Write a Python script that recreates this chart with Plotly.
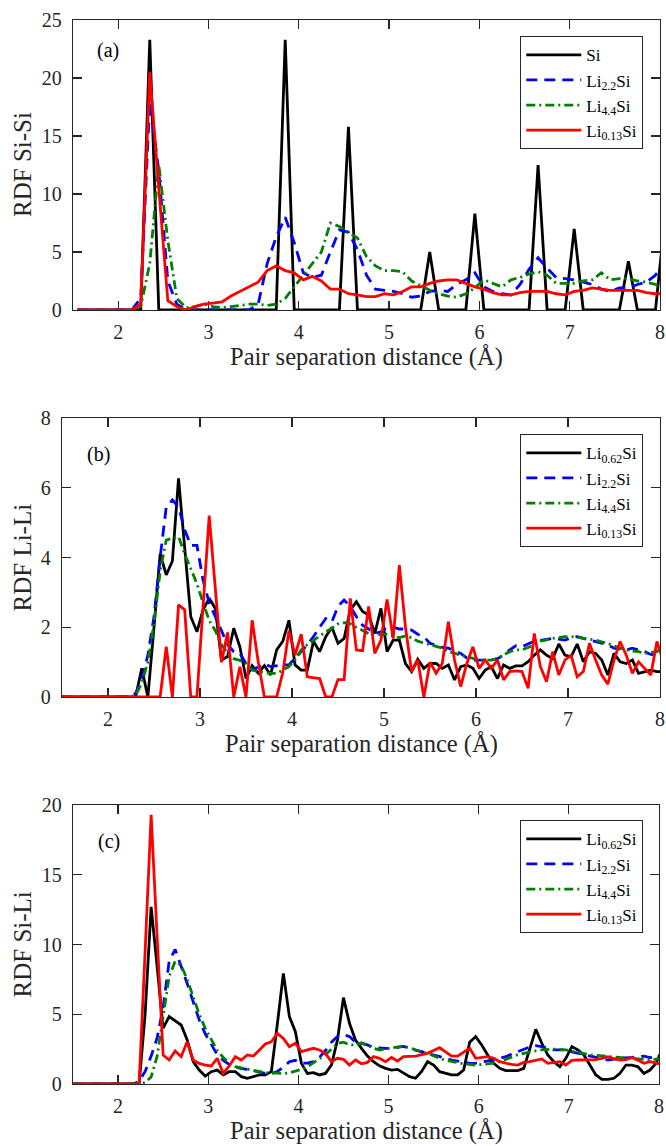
import plotly.graph_objects as go

# ---------------- Panel (a): Si-Si, 0.1 A bins ----------------
r_a = [1.55, 1.65, 1.75, 1.85, 1.95, 2.05, 2.15, 2.25, 2.35, 2.45,
       2.55, 2.65, 2.75, 2.85, 2.95, 3.05, 3.15, 3.25, 3.35, 3.45,
       3.55, 3.65, 3.75, 3.85, 3.95, 4.05, 4.15, 4.25, 4.35, 4.45,
       4.55, 4.65, 4.75, 4.85, 4.95, 5.05, 5.15, 5.25, 5.35, 5.45,
       5.55, 5.65, 5.75, 5.85, 5.95, 6.05, 6.15, 6.25, 6.35, 6.45,
       6.55, 6.65, 6.75, 6.85, 6.95, 7.05, 7.15, 7.25, 7.35, 7.45,
       7.55, 7.65, 7.75, 7.85, 7.95, 8.05]

a_si = [0, 0, 0, 0, 0, 0, 0, 0, 23.3, 0,
        0, 0, 0, 0, 0, 0, 0, 0, 0, 0,
        0, 0, 0, 23.3, 0, 0, 0, 0, 0, 0,
        15.8, 0, 0, 0, 0, 0, 0, 0, 0, 5.0,
        0, 0, 0, 0, 8.3, 0, 0, 0, 0, 0,
        0, 12.5, 0, 0, 0, 7.0, 0, 0, 0, 0,
        0, 4.2, 0, 0, 0, 7.6]

a_li22 = [0, 0, 0, 0, 0, 0, 0, 1.0, 18.0, 12.0,
          2.5, 0.5, 0, 0, 0, 0, 0, 0, 0, 0,
          0.5, 4.0, 6.3, 8.0, 5.8, 3.2, 2.8, 3.0, 5.0, 6.9,
          6.7, 5.2, 3.0, 1.8, 1.7, 1.6, 1.4, 1.1, 1.2, 1.6,
          1.7, 1.6, 2.2, 2.6, 3.2, 2.0, 1.6, 1.4, 1.3, 2.2,
          3.5, 4.5, 3.6, 2.8, 2.7, 2.6, 2.4, 2.2, 1.8, 1.6,
          1.9, 1.9, 2.2, 2.4, 3.0, 4.0]

a_li44 = [0, 0, 0, 0, 0, 0, 0, 0.3, 4.0, 12.5,
          6.0, 1.0, 0.2, 0.3, 0.5, 0.3, 0.2, 0.3, 0.4, 0.5,
          0.5, 0.4, 0.5, 1.0, 2.0, 3.0, 4.0, 5.0, 7.5, 7.2,
          6.7, 6.2, 4.6, 3.8, 3.4, 3.4, 3.3, 2.5, 2.1, 1.7,
          1.4, 1.2, 1.1, 1.4, 1.9, 2.6, 2.3, 2.0, 2.6, 2.8,
          3.1, 3.3, 3.0, 2.3, 2.3, 2.3, 2.5, 2.6, 3.2, 2.6,
          2.7, 2.7, 2.5, 2.4, 2.2, 2.1]

a_li013 = [0, 0, 0, 0, 0, 0, 0, 0.5, 20.5, 10.5,
           0.8, 0.3, 0, 0.3, 0.5, 0.6, 0.7, 1.2, 1.6, 2.0,
           2.4, 3.4, 3.8, 3.4, 3.2, 2.6, 2.9, 2.5, 1.8, 1.8,
           1.4, 1.3, 1.15, 1.15, 1.4, 1.3, 1.6, 2.0, 2.0, 2.3,
           2.5, 2.6, 2.6, 2.3, 2.0, 1.8, 1.5, 1.3, 1.3, 1.5,
           1.6, 1.6, 1.6, 1.4, 1.3, 1.6, 1.7, 1.9, 1.8, 1.7,
           1.7, 1.7, 1.7, 1.5, 1.4, 1.4]

# ---------------- Panels (b), (c): 1/15 A bins ----------------
r_bc = [1.5, 1.5667, 1.6333, 1.7, 1.7667, 1.8333, 1.9, 1.9667, 2.0333, 2.1,
        2.1667, 2.2333, 2.3, 2.3667, 2.4333, 2.5, 2.5667, 2.6333, 2.7, 2.7667,
        2.8333, 2.9, 2.9667, 3.0333, 3.1, 3.1667, 3.2333, 3.3, 3.3667, 3.4333,
        3.5, 3.5667, 3.6333, 3.7, 3.7667, 3.8333, 3.9, 3.9667, 4.0333, 4.1,
        4.1667, 4.2333, 4.3, 4.3667, 4.4333, 4.5, 4.5667, 4.6333, 4.7, 4.7667,
        4.8333, 4.9, 4.9667, 5.0333, 5.1, 5.1667, 5.2333, 5.3, 5.3667, 5.4333,
        5.5, 5.5667, 5.6333, 5.7, 5.7667, 5.8333, 5.9, 5.9667, 6.0333, 6.1,
        6.1667, 6.2333, 6.3, 6.3667, 6.4333, 6.5, 6.5667, 6.6333, 6.7, 6.7667,
        6.8333, 6.9, 6.9667, 7.0333, 7.1, 7.1667, 7.2333, 7.3, 7.3667, 7.4333,
        7.5, 7.5667, 7.6333, 7.7, 7.7667, 7.8333, 7.9, 7.9667, 8.0333]

b_li062 = [0, 0, 0, 0, 0, 0, 0, 0, 0, 0,
           0, 0, 0, 0.82, 0, 2.0, 4.1, 3.5, 3.9, 6.27,
           4.3, 2.3, 1.87, 2.5, 2.83, 2.54, 1.06, 1.16, 1.97, 1.44,
           0.53, 0.9, 0.68, 0.9, 0.63, 1.35, 1.6, 2.2, 0.92, 0.77,
           0.77, 1.6, 1.3, 1.73, 2.0, 1.54, 1.68, 2.5, 2.73, 2.45,
           2.35, 1.82, 2.54, 1.3, 1.63, 1.63, 0.96, 0.73, 1.08, 0.82,
           0.96, 0.96, 0.82, 0.92, 0.49, 0.87, 0.92, 0.82, 0.53, 0.77,
           0.87, 0.53, 0.92, 0.82, 0.89, 0.89, 1.01, 1.2, 1.35, 1.2,
           1.1, 1.52, 1.2, 1.15, 1.52, 1.01, 1.3, 1.25, 1.06, 0.63,
           1.25, 1.01, 0.96, 1.06, 0.68, 0.73, 0.77, 0.73, 0.73]

b_li22 = [0, 0, 0, 0, 0, 0, 0, 0, 0, 0,
          0, 0.05, 0.1, 0.5, 1.2, 2.3, 4.0, 5.45, 5.65, 5.45,
          4.8, 4.35, 4.35, 3.35, 2.7, 2.3, 1.9, 1.5, 1.3, 1.25,
          0.96, 0.8, 0.85, 0.96, 0.87, 0.9, 0.92, 0.92, 1.1, 1.3,
          1.5, 1.73, 2.0, 2.25, 2.15, 2.6, 2.78, 2.6, 2.3, 2.06,
          1.95, 1.82, 1.87, 2.0, 2.0, 1.95, 1.95, 1.92, 1.8, 1.73,
          1.54, 1.48, 1.42, 1.4, 1.32, 1.25, 1.12, 1.06, 1.06, 1.06,
          1.06, 1.1, 1.2, 1.35, 1.47, 1.44, 1.52, 1.6, 1.62, 1.65,
          1.68, 1.66, 1.63, 1.7, 1.73, 1.68, 1.64, 1.6, 1.55, 1.5,
          1.4, 1.37, 1.35, 1.4, 1.35, 1.3, 1.22, 1.2, 1.3]

b_li44 = [0, 0, 0, 0, 0, 0, 0, 0, 0, 0,
          0, 0, 0.05, 0.4, 1.0, 2.1, 3.6, 4.5, 4.55, 4.6,
          4.1, 3.7, 3.25, 2.7, 2.2, 1.9, 1.5, 1.25, 1.1, 1.05,
          0.96, 0.77, 0.73, 0.7, 0.68, 0.68, 0.77, 0.87, 1.06, 1.35,
          1.5, 1.63, 1.75, 1.87, 1.97, 2.1, 2.13, 2.1, 2.0, 1.92,
          1.82, 1.78, 1.78, 1.8, 1.75, 1.7, 1.75, 1.7, 1.6, 1.55,
          1.5, 1.46, 1.4, 1.3, 1.25, 1.2, 1.16, 1.12, 1.06, 1.06,
          1.06, 1.1, 1.2, 1.3, 1.35, 1.35, 1.42, 1.49, 1.6, 1.65,
          1.68, 1.7, 1.73, 1.73, 1.72, 1.68, 1.66, 1.63, 1.58, 1.54,
          1.46, 1.4, 1.35, 1.32, 1.3, 1.25, 1.28, 1.3, 1.44]

b_li013 = [0, 0, 0, 0, 0, 0, 0, 0, 0, 0,
           0, 0, 0, 0, 0, 0, 0, 1.44, 0, 2.64,
           2.5, 0, 0, 2.6, 5.2, 3.1, 1.0, 1.85, 0, 0.87,
           0, 2.2, 1.0, 0, 0, 0, 0.7, 1.9, 1.2, 1.8,
           0.58, 0.55, 0.53, 0, 0, 0.5, 0.5, 2.83, 1.35, 1.33,
           2.6, 1.25, 1.63, 2.8, 1.68, 3.78, 2.0, 0.73, 1.06, 0,
           1.0, 0.68, 0.96, 2.16, 1.06, 0.3, 0.96, 1.44, 0.82, 1.06,
           0.82, 1.06, 0.49, 0.73, 0.75, 0.73, 0.25, 1.82, 0.87, 0.44,
           1.3, 0.63, 1.06, 1.2, 0.58, 0.73, 1.54, 1.06, 0.63, 0.37,
           1.06, 1.59, 1.2, 0.68, 1.01, 0.82, 0.63, 1.59, 1.06]

c_li062 = [0, 0, 0, 0, 0, 0, 0, 0, 0, 0,
           0, 0, 5.0, 12.7, 8.4, 4.0, 4.83, 4.54, 4.23, 3.15,
           1.6, 1.0, 0.57, 0.88, 1.0, 0.65, 0.88, 0.88, 0.53, 0.41,
           0.53, 0.65, 0.65, 0.88, 4.3, 7.93, 4.83, 3.75, 1.48, 0.76,
           0.81, 0.65, 0.76, 1.36, 3.15, 6.19, 4.35, 3.15, 2.55, 2.0,
           1.6, 1.3, 1.12, 1.0, 1.05, 0.76, 0.53, 0.41, 0.9, 1.6,
           1.36, 0.88, 0.76, 0.65, 0.65, 1.0, 3.0, 3.4, 2.8, 2.08,
           1.48, 1.12, 0.96, 0.96, 0.96, 1.12, 2.44, 3.92, 2.92, 2.08,
           1.6, 1.24, 1.84, 2.68, 2.44, 2.08, 1.36, 0.65, 0.33, 0.33,
           0.41, 0.76, 1.36, 1.36, 1.24, 0.76, 1.0, 1.48, 2.44]

c_li22 = [0, 0, 0, 0, 0, 0, 0, 0, 0, 0,
          0, 0.2, 0.9, 2.0, 3.3, 5.5, 8.8, 9.65, 8.5, 7.2,
          5.9, 4.6, 3.6, 2.8, 2.1, 1.7, 1.4, 1.25, 1.1, 1.05,
          0.95, 0.8, 0.75, 0.75, 0.9, 1.2, 1.6, 1.7, 1.5, 1.5,
          1.6, 1.9, 2.4, 3.0, 3.4, 3.55, 3.4, 3.0, 2.9, 2.8,
          2.6, 2.55, 2.55, 2.55, 2.6, 2.7, 2.55, 2.44, 2.3, 2.2,
          2.1, 1.96, 1.85, 1.72, 1.65, 1.58, 1.48, 1.5, 1.6, 1.65,
          1.72, 1.85, 1.96, 2.15, 2.32, 2.5, 2.65, 2.75, 2.68, 2.55,
          2.44, 2.44, 2.44, 2.3, 2.2, 2.1, 2.0, 1.9, 1.8, 1.72,
          1.78, 1.84, 1.87, 1.9, 1.95, 2.0, 1.9, 1.84, 2.2]

c_li44 = [0, 0, 0, 0, 0, 0, 0, 0, 0, 0,
          0, 0, 0.1, 0.5, 2.0, 5.0, 7.7, 8.8, 8.5, 7.5,
          6.3, 5.0, 4.0, 3.2, 2.4, 1.9, 1.5, 1.25, 1.15, 1.05,
          1.0, 0.9, 0.8, 0.8, 0.75, 0.75, 0.8, 0.9, 1.05, 1.25,
          1.5, 1.8, 2.1, 2.5, 2.9, 3.0, 2.8, 2.8, 2.95, 2.8,
          2.56, 2.44, 2.5, 2.56, 2.63, 2.72, 2.6, 2.44, 2.3, 2.2,
          2.0, 1.84, 1.7, 1.6, 1.52, 1.45, 1.4, 1.36, 1.4, 1.43,
          1.5, 1.6, 1.78, 1.96, 2.1, 2.2, 2.3, 2.38, 2.44, 2.48,
          2.5, 2.47, 2.44, 2.35, 2.25, 2.15, 2.1, 2.05, 2.0, 1.96,
          1.93, 1.9, 1.88, 1.84, 1.8, 1.75, 1.72, 1.78, 1.84]

c_li013 = [0, 0, 0, 0, 0, 0, 0, 0, 0, 0,
           0, 0, 9.5, 19.3, 10.5, 2.08, 1.72, 2.37, 1.96, 3.03,
           1.72, 1.48, 1.36, 1.29, 1.84, 0.76, 1.29, 1.96, 1.72, 2.08,
           2.0, 2.44, 2.87, 3.03, 3.63, 3.27, 2.68, 2.92, 2.32, 2.44,
           2.56, 2.44, 2.2, 1.6, 1.84, 1.77, 1.36, 1.72, 1.45, 1.55,
           1.96, 1.84, 1.6, 1.9, 1.65, 1.96, 2.0, 2.0, 2.1, 2.2,
           2.4, 2.6, 2.3, 2.0, 2.0, 2.3, 2.56, 1.84, 1.9, 1.96,
           1.84, 1.6, 1.5, 1.4, 1.36, 1.55, 1.6, 1.7, 1.8, 1.48,
           1.55, 1.6, 1.36, 1.7, 1.72, 1.72, 1.72, 1.75, 1.84, 1.96,
           1.8, 1.72, 1.75, 1.9, 1.7, 1.48, 1.6, 1.5, 1.4]

names_a = ["Si", "Li<sub>2.2</sub>Si", "Li<sub>4.4</sub>Si", "Li<sub>0.13</sub>Si"]
names_bc = ["Li<sub>0.62</sub>Si", "Li<sub>2.2</sub>Si", "Li<sub>4.4</sub>Si", "Li<sub>0.13</sub>Si"]
y_titles = ["RDF Si-Si", "RDF Li-Li", "RDF Si-Li"]
panel_tags = ["(a)", "(b)", "(c)"]
x_title = "Pair separation distance (Å)"
x_ticks = [2, 3, 4, 5, 6, 7, 8]

FONT = "Liberation Serif"
AX = "#262626"
W, H = 666, 1146

styles = [
    dict(color="#000000", width=2.8, dash="solid"),
    dict(color="#0000ff", width=2.8, dash="11px,7px"),
    dict(color="#008000", width=2.8, dash="9px,4px,2px,4px"),
    dict(color="#ff0000", width=2.8, dash="solid"),
]

# panel geometry in pixels: left, right, top, bottom
geo = [(73, 660, 20, 310), (62, 660, 418, 697), (73, 659, 805, 1084)]
yranges = [[0, 25], [0, 8], [0, 20]]
ytickvals = [[0, 5, 10, 15, 20, 25], [0, 2, 4, 6, 8], [0, 5, 10, 15, 20]]
legend_tops = [36, 434, 820]
tag_pos = [(96, 50), (86, 454), (97, 841)]

fig = go.Figure()
series = [
    (r_a, [a_si, a_li22, a_li44, a_li013], names_a),
    (r_bc, [b_li062, b_li22, b_li44, b_li013], names_bc),
    (r_bc, [c_li062, c_li22, c_li44, c_li013], names_bc),
]
legend_ids = ["legend", "legend2", "legend3"]

for p, (xs, ys_list, nms) in enumerate(series):
    xa = "x" if p == 0 else f"x{p+1}"
    ya = "y" if p == 0 else f"y{p+1}"
    for s, (ys, nm) in enumerate(zip(ys_list, nms)):
        fig.add_trace(go.Scatter(x=xs, y=ys, mode="lines", name=nm,
                                 line=styles[s], xaxis=xa, yaxis=ya,
                                 legend=legend_ids[p], hoverinfo="skip"))

layout = dict(template="none", width=W, height=H,
              margin=dict(l=0, r=0, t=0, b=0, pad=0, autoexpand=False),
              paper_bgcolor="white", plot_bgcolor="white",
              font=dict(family=FONT, size=20, color="#262626"),
              showlegend=True)

annotations = []
for p in range(3):
    l, r, t, b = geo[p]
    xk = "xaxis" if p == 0 else f"xaxis{p+1}"
    yk = "yaxis" if p == 0 else f"yaxis{p+1}"
    ya = "y" if p == 0 else f"y{p+1}"
    xa = "x" if p == 0 else f"x{p+1}"
    common = dict(showline=True, linecolor=AX, linewidth=1.3, mirror="ticks",
                  ticks="inside", ticklen=9, tickwidth=1.3, tickcolor=AX,
                  showgrid=False, zeroline=False, layer="below traces",
                  automargin=False, ticklabeloverflow="allow",
                  tickfont=dict(family=FONT, size=20, color="#262626"))
    layout[xk] = dict(domain=[l / W, r / W], range=[1.5, 8], anchor=ya,
                      tickvals=x_ticks, ticklabelstandoff=4, **common)
    layout[yk] = dict(domain=[1 - b / H, 1 - t / H], range=yranges[p], anchor=xa,
                      tickvals=ytickvals[p], ticklabelstandoff=6, **common)
    lid = legend_ids[p]
    layout[lid] = dict(x=643 / W, xanchor="right", y=1 - legend_tops[p] / H, yanchor="top",
                       bgcolor="white", bordercolor=AX, borderwidth=1.3,
                       font=dict(family=FONT, size=17, color="#000000"),
                       itemwidth=55, tracegroupgap=0)
    tx, ty = tag_pos[p]
    annotations.append(dict(text=panel_tags[p], x=tx / W, y=1 - ty / H, xref="paper", yref="paper",
                            xanchor="left", yanchor="middle", showarrow=False, borderpad=0,
                            font=dict(family=FONT, size=20, color="#000000")))
    annotations.append(dict(text=y_titles[p], x=22 / W, y=1 - (t + b) / 2 / H, xref="paper", yref="paper",
                            xanchor="center", yanchor="middle", textangle=-90, showarrow=False,
                            borderpad=0, font=dict(family=FONT, size=25, color="#262626")))
    annotations.append(dict(text=x_title, x=(l + r) / 2 / W, y=1 - (b + 47) / H, xref="paper", yref="paper",
                            xanchor="center", yanchor="middle", showarrow=False, borderpad=0,
                            font=dict(family=FONT, size=24.5, color="#262626")))

layout["annotations"] = annotations
fig.update_layout(**layout)
# remove the browser's default 8px page margin so the figure sits at the window origin
fig.write_html("out.html", config={"displayModeBar": False, "staticPlot": True},
               post_script="document.body.style.margin='0px';")
